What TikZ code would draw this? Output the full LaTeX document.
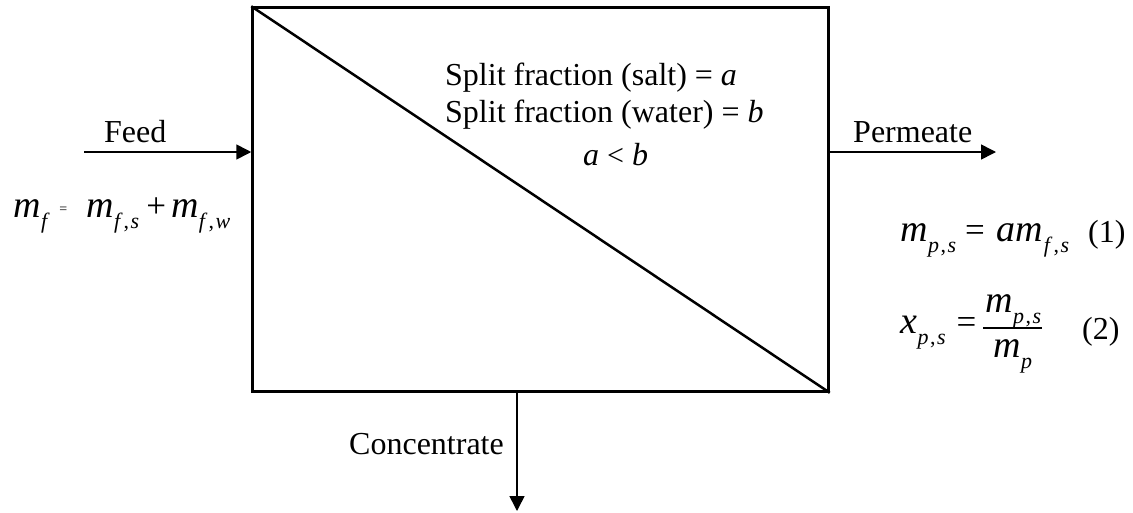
\documentclass[tikz,border=0pt]{standalone}
\usepackage{fontspec}
\setmainfont{Liberation Serif}
\usetikzlibrary{arrows.meta}
\newcommand\Mm[1]{{\fontsize{38}{38}\selectfont\itshape #1}}
\newcommand\Mu[1]{{\fontsize{35}{35}\selectfont #1}}
\newcommand\Ms[1]{\kern0.5pt\raisebox{-11pt}{\fontsize{22}{22}\selectfont\itshape #1}}
\newcommand\cm{\upshape\kern1.5pt,\kern1.5pt\itshape}
\tikzset{
  unit/.style={draw, line width=2.5pt, inner sep=0pt, minimum width=576pt, minimum height=384pt},
  flow/.style={line width=1.6pt, -{Triangle[length=15pt,width=15pt]}},
  lbl/.style={inner sep=0pt, font=\fontsize{32}{36}\selectfont},
  eqn/.style={inner sep=0pt, anchor=base west},
}
\begin{document}
\begin{tikzpicture}[x=1pt, y=-1pt]
\useasboundingbox (0,0) rectangle (1133,512);
\node[unit] (box) at (540.5,199.5) {};
\draw[line width=2.5pt] (box.north west) -- (box.south east);
% streams
\coordinate (feedstart) at (84,152);
\coordinate (permend) at (996,152);
\coordinate (concend) at (517,511);
\draw[flow] (feedstart) -- (feedstart -| box.west);
\draw[flow] (box.east |- permend) -- (permend);
\draw[flow] (concend |- box.south) -- (concend);
% labels
\node[lbl, anchor=base west] (feed) at (104,142) {Feed};
\node[lbl, anchor=base west] (perm) at (853,142) {Permeate};
\node[lbl, anchor=base west] (conc) at (349,454) {Concentrate};
\node[lbl, anchor=base west] (split1) at (445,85) {Split fraction (salt) = \textit{a}};
\node[lbl, anchor=base west] (split2) at (445,122) {Split fraction (water) = \textit{b}};
\node[lbl, anchor=base west] (split3) at (583,165) {\textit{a} {\fontsize{30}{30}\selectfont <} \textit{b}};
% left equation
\node[eqn] (eqf) at (13,217) {\Mm{m}\Ms{f}\hspace{12pt}\raisebox{4pt}{\fontsize{14}{14}\selectfont =}\hspace{19pt}\Mm{m}\Ms{f\kern2pt\cm s}\hspace{7pt}\Mu{+}\hspace{5pt}\Mm{m}\Ms{f\kern2pt\cm w}};
% right equations
\node[eqn] (eq1) at (900,241) {\Mm{m}\Ms{p\cm s}\hspace{9pt}\Mu{=}\hspace{12pt}\Mm{am}\Ms{f\kern2pt\cm s}};
\node[lbl, anchor=base west] (n1) at (1088,242) {(1)};
\node[eqn] (eq2) at (900,333) {\Mm{x}\Ms{p\cm s}\hspace{11pt}\Mu{=}};
\node[eqn] (num) at (985,312) {\Mm{m}\Ms{p\cm s}};
\node[eqn] (den) at (993,357) {\Mm{m}\Ms{p}};
\coordinate (barl) at (983,328);
\coordinate (barr) at (1042,328);
\draw[line width=1.2pt] (barl) -- (barr);
\node[lbl, anchor=base west] (n2) at (1082,339) {(2)};
\end{tikzpicture}
\end{document}
